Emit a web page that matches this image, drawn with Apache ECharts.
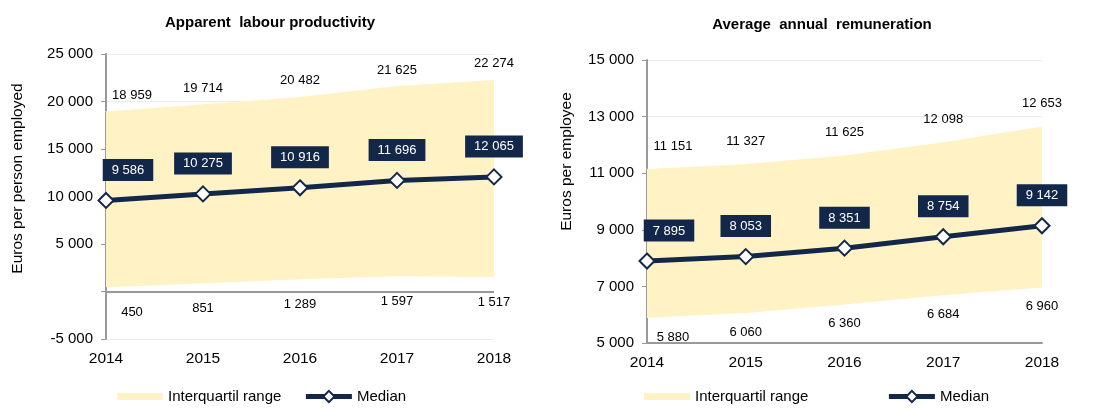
<!DOCTYPE html>
<html>
<head>
<meta charset="utf-8">
<script src="https://cdn.jsdelivr.net/npm/echarts@6/dist/echarts.min.js"></script>
<style>
  html, body { margin: 0; padding: 0; background: #fff; }
  #chart { width: 1093px; height: 409px; }
</style>
</head>
<body>
<div id="chart"></div>
<script>
  var years = ['2014', '2015', '2016', '2017', '2018'];

  // Apparent labour productivity
  var prodLower = [450, 851, 1289, 1597, 1517];
  var prodUpper = [18959, 19714, 20482, 21625, 22274];
  var prodMedian = [9586, 10275, 10916, 11696, 12065];

  // Average annual remuneration
  var remLower = [5880, 6060, 6360, 6684, 6960];
  var remUpper = [11151, 11327, 11625, 12098, 12653];
  var remMedian = [7895, 8053, 8351, 8754, 9142];

  var NAVY = '#13274a';
  var BAND = '#fff3c5';
  var FONT = 'Liberation Sans, Arial, sans-serif';

  function fmt(v) {
    return String(v).replace(/\B(?=(\d{3})+(?!\d))/g, ' ');
  }

  // first point's labels are nudged right so they stay inside the plot
  function withFirstNudge(arr, dx) {
    return arr.map(function (v, i) {
      if (i === 0) return { value: v, label: { offset: [dx, 0] } };
      return v;
    });
  }

  function bandSeries(idx, lower, upper, topGap, botGap) {
    var diff = upper.map(function (u, i) { return u - lower[i]; });
    return [
      {
        name: 'q1_' + idx,
        type: 'line',
        xAxisIndex: idx, yAxisIndex: idx,
        stack: 'band' + idx,
        data: withFirstNudge(lower, 26),
        symbol: 'circle', symbolSize: 1,
        itemStyle: { color: 'rgba(0,0,0,0)' },
        lineStyle: { opacity: 0 },
        silent: true,
        label: {
          show: true, position: 'bottom', distance: botGap,
          color: '#000', fontSize: 13, fontFamily: FONT,
          formatter: function (p) { return fmt(lower[p.dataIndex]); }
        },
        z: 2
      },
      {
        name: 'Interquartil range',
        type: 'line',
        xAxisIndex: idx, yAxisIndex: idx,
        stack: 'band' + idx,
        data: withFirstNudge(diff, 26),
        symbol: 'circle', symbolSize: 1,
        itemStyle: { color: BAND },
        lineStyle: { opacity: 0 },
        areaStyle: { color: BAND, opacity: 1 },
        silent: true,
        label: {
          show: true, position: 'top', distance: topGap,
          color: '#000', fontSize: 13, fontFamily: FONT,
          formatter: function (p) { return fmt(upper[p.dataIndex]); }
        },
        z: 1
      }
    ];
  }

  function medianSeries(idx, median, extra) {
    var s = {
      name: 'Median',
      type: 'line',
      xAxisIndex: idx, yAxisIndex: idx,
      data: withFirstNudge(median, 22),
      symbol: 'diamond',
      symbolSize: 15,
      lineStyle: { color: NAVY, width: 5 },
      itemStyle: { color: '#fff', borderColor: NAVY, borderWidth: 2 },
      label: {
        show: true, position: 'top', distance: 11,
        color: '#fff', fontSize: 13, fontFamily: FONT,
        backgroundColor: NAVY, padding: [5, 9, 4, 9],
        formatter: function (p) { return fmt(p.value); }
      },
      z: 5
    };
    if (extra) Object.assign(s, extra);
    return s;
  }

  function yAxis(idx, min, max, interval, name, gap, lift, hideZero) {
    return {
      type: 'value', gridIndex: idx,
      min: min, max: max, interval: interval,
      name: name, nameLocation: 'middle', nameGap: gap,
      nameTextStyle: { color: '#000', fontSize: 15.5, fontFamily: FONT, padding: [0, 0, 0, lift] },
      axisLine: { show: true, lineStyle: { color: '#999', width: 2 } },
      axisTick: { show: true, length: 5, lineStyle: { color: '#999' } },
      axisLabel: {
        color: '#000', fontSize: 15, fontFamily: FONT, margin: 13,
        formatter: function (v) { return (hideZero && v === 0) ? '' : fmt(v); }
      },
      splitLine: { show: true, lineStyle: { color: '#ececec', width: 1 } }
    };
  }

  function xAxis(idx, showLine) {
    return {
      type: 'category', gridIndex: idx, data: years,
      boundaryGap: false,
      axisLine: { show: showLine, onZero: false, lineStyle: { color: '#999', width: 2 } },
      axisTick: { show: false },
      axisLabel: { color: '#000', fontSize: 15.5, fontFamily: FONT, margin: 12 },
      splitLine: { show: false }
    };
  }

  var legendCommon = {
    bottom: 0,
    itemWidth: 46,
    itemHeight: 14,
    textStyle: { color: '#000', fontSize: 15, fontFamily: FONT },
    selectedMode: false
  };
  var legendItems = [
    { name: 'Interquartil range', icon: 'path://M0,0M0,14M0,3.5h46v7h-46z', itemStyle: { color: BAND } },
    { name: 'Median', lineStyle: { width: 5 } }
  ];

  var chart = echarts.init(document.getElementById('chart'));
  chart.setOption({
    animation: false,
    backgroundColor: '#fff',
    title: [
      { text: 'Apparent  labour productivity', left: 265, top: 10, textAlign: 'center',
        textStyle: { fontSize: 15, fontWeight: 'bold', color: '#000', fontFamily: FONT } },
      { text: 'Average  annual  remuneration', left: 817, top: 12, textAlign: 'center',
        textStyle: { fontSize: 15, fontWeight: 'bold', color: '#000', fontFamily: FONT } }
    ],
    legend: [
      Object.assign({}, legendCommon, { left: 112, itemGap: 22, data: legendItems }),
      Object.assign({}, legendCommon, { left: 639, itemGap: 78, data: legendItems })
    ],
    grid: [
      { left: 106, right: 599, top: 54, bottom: 70 },
      { left: 647, right: 51, top: 60, bottom: 66 }
    ],
    xAxis: [xAxis(0, false), xAxis(1, true)],
    yAxis: [
      yAxis(0, -5000, 25000, 5000, 'Euros per person employed', 80, 36, true),
      yAxis(1, 5000, 15000, 2000, 'Euros per employee', 72, 80, false)
    ],
    series: []
      .concat(bandSeries(0, prodLower, prodUpper, 9, 18))
      .concat([medianSeries(0, prodMedian, {
        markLine: {
          silent: true, symbol: 'none', label: { show: false },
          lineStyle: { color: '#999', width: 2, type: 'solid' },
          data: [{ yAxis: 0 }]
        }
      })])
      .concat(bandSeries(1, remLower, remUpper, 16, 12))
      .concat([medianSeries(1, remMedian)])
  });
</script>
</body>
</html>
